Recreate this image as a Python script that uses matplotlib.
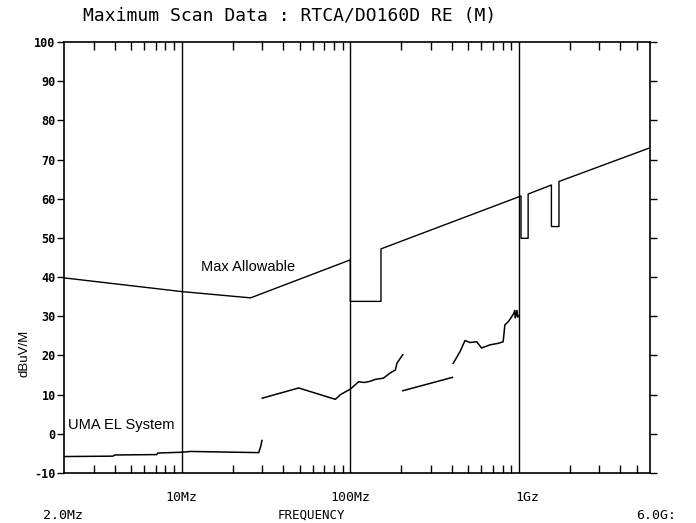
import numpy as np
import matplotlib
matplotlib.use("Agg")
import matplotlib.pyplot as plt
import matplotlib.transforms as mtransforms
from matplotlib.ticker import FixedLocator, NullFormatter

# ---- data (frequency in MHz, level in dBuV/m) ----
limit_freq = [2, 10, 25.6, 100, 100, 152, 152, 1030, 1030, 1135, 1135, 1560, 1560, 1730, 1730, 6000]
limit_level = [39.8, 36.3, 34.7, 44.4, 33.8, 33.8, 47.2, 60.7, 49.9, 49.9, 61.2, 63.5, 52.9, 52.9, 64.4, 73.0]

seg1_freq = [2, 3.9, 4.0, 7.1, 7.2, 10, 11.3, 28.6, 29.4, 29.9]
seg1_level = [-5.8, -5.7, -5.4, -5.3, -4.9, -4.7, -4.5, -4.8, -3.2, -1.7]

seg2_freq = [30, 49.4, 81.5, 87.3, 100, 112, 121, 131, 141, 157, 172, 185, 189, 198, 205]
seg2_level = [9.1, 11.7, 8.8, 10.0, 11.4, 13.3, 13.1, 13.4, 13.9, 14.2, 15.5, 16.3, 18.0, 19.3, 20.2]

seg3_freq = [205, 403]
seg3_level = [11.0, 14.4]

seg4_freq = [408, 448, 479, 513, 562, 601, 673, 755, 807, 826, 865, 905, 934, 945, 952, 960, 975, 985, 1000]
seg4_level = [18.0, 21.0, 23.8, 23.3, 23.5, 21.9, 22.7, 23.1, 23.5, 27.8, 28.6, 29.8, 30.8, 31.5, 29.6, 30.1, 31.5, 29.8, 30.1]

grid_freqs = [10, 100, 1000]
xtick_labels = ["10Mz", "100Mz", "1Gz"]
yticks = [-10, 0, 10, 20, 30, 40, 50, 60, 70, 80, 90, 100]
ytick_labels = ["-10", "0", "10", "20", "30", "40", "50", "60", "70", "80", "90", "100"]

mono = "DejaVu Sans Mono"
sans = "Liberation Sans"

fig = plt.figure(figsize=(6.96, 5.23), dpi=100)
ax = fig.add_axes([64 / 696, 1 - 473 / 523, (650 - 64) / 696, (473 - 42) / 523])

ax.set_xscale("log")
ax.set_xlim(2, 6000)
ax.set_ylim(-10, 100)

for g in grid_freqs:
    ax.axvline(g, color="black", lw=1.0)

ax.plot(limit_freq, limit_level, color="black", lw=1.0)
for f, l in [(seg1_freq, seg1_level), (seg2_freq, seg2_level),
             (seg3_freq, seg3_level), (seg4_freq, seg4_level)]:
    ax.plot(f, l, color="black", lw=1.1)

for s in ax.spines.values():
    s.set_linewidth(1.2)

# x ticks
ax.xaxis.set_major_locator(FixedLocator(grid_freqs))
ax.set_xticklabels(xtick_labels, fontfamily=mono, fontsize=9.5)
minor = [m * d for d in [1, 10, 100, 1000] for m in range(2, 10) if 2 < m * d < 6000]
ax.xaxis.set_minor_locator(FixedLocator(minor))
ax.xaxis.set_minor_formatter(NullFormatter())
ax.tick_params(axis="x", which="major", direction="in", length=0, pad=13, top=True)
ax.tick_params(axis="x", which="minor", direction="in", length=6, width=1.0, top=True)
# the "1Gz" label sits slightly right of its line in the reference
shift = mtransforms.ScaledTranslation(9 / 100, 0, fig.dpi_scale_trans)
lbl = ax.get_xticklabels()[2]
lbl.set_transform(lbl.get_transform() + shift)

# y ticks
ax.set_yticks(yticks)
ax.set_yticklabels(ytick_labels, fontfamily=mono, fontsize=8.5, fontweight="bold")
ax.tick_params(axis="y", which="major", direction="out", length=5, width=1.0, pad=1, right=True)
ax.yaxis.set_minor_locator(FixedLocator([]))

# texts
fig.text(83 / 696, 1 - 21 / 523, "Maximum Scan Data : RTCA/DO160D RE (M)",
         fontfamily=mono, fontsize=13, va="baseline", ha="left")
fig.text(43 / 696, 1 / 523, "2.0Mz", fontfamily=mono, fontsize=9.5, va="bottom", ha="left")
fig.text(278 / 696, 1 / 523, "FREQUENCY", fontfamily=mono, fontsize=9, va="bottom", ha="left")
fig.text(636 / 696, 1 / 523, "6.0G:", fontfamily=mono, fontsize=9.5, va="bottom", ha="left")
fig.text(25 / 696, 1 - 353 / 523, "dBuV/M", fontfamily=sans, fontsize=9.5,
         rotation=90, va="center", ha="center")

ax.text(12.95, 42.6, "Max Allowable", fontfamily=sans, fontsize=10.5, va="center", ha="left")
ax.text(2.11, 2.3, "UMA EL System", fontfamily=sans, fontsize=10.5, va="center", ha="left")

fig.savefig("out.png", dpi=100, facecolor="white")
